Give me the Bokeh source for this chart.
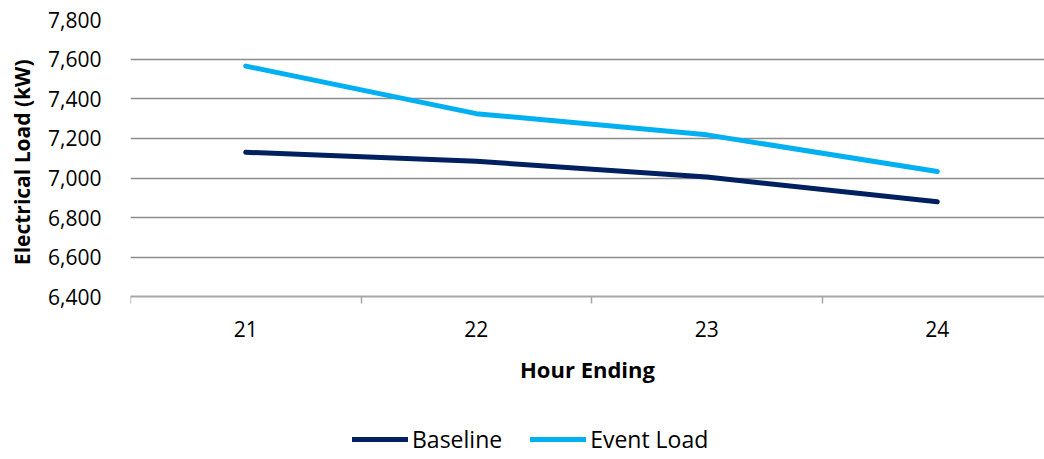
from bokeh.plotting import figure
from bokeh.models import Range1d, FixedTicker, Legend, LegendItem, NumeralTickFormatter, Title
from bokeh.embed import file_html
from bokeh.resources import INLINE

hours = [21, 22, 23, 24]
baseline = [7130, 7085, 7005, 6880]
event_load = [7565, 7325, 7218, 7033]
y_ticks = [6400, 6600, 6800, 7000, 7200, 7400, 7600, 7800]
series_names = ["Baseline", "Event Load"]

FONT = "Open Sans"

# frame spans the full height; the value axis starts at 6,400 (x axis fixed there)
p = figure(width=1044, height=459, output_backend="svg", toolbar_location=None,
           x_range=Range1d(20.5, 24.465), y_range=Range1d(5580, 7800),
           min_border_left=130, min_border_right=0, min_border_top=19, min_border_bottom=0)
p.outline_line_color = None
p.background_fill_color = "white"
p.border_fill_color = "white"

r1 = p.line(hours, baseline, line_color="#002060", line_width=5, line_cap="round", line_join="round")
r2 = p.line(hours, event_load, line_color="#00B0F0", line_width=5, line_cap="round", line_join="round")

# x axis
xa = p.xaxis[0]
xa.fixed_location = 6400
xa.ticker = FixedTicker(ticks=hours, minor_ticks=[20.5, 21.5, 22.5, 23.5])
xa.major_tick_out = 0
xa.major_tick_in = 0
xa.minor_tick_out = 7
xa.minor_tick_in = 0
xa.minor_tick_line_color = "#a6a6a6"
xa.minor_tick_line_width = 1.5
xa.axis_line_color = "#a6a6a6"
xa.axis_line_width = 1.5
xa.major_label_standoff = 17
xa.major_label_text_font = FONT
xa.major_label_text_font_size = "21px"
xa.major_label_text_color = "black"
xa.axis_label = "Hour Ending"
xa.axis_label_text_font = FONT
xa.axis_label_text_font_style = "bold"
xa.axis_label_text_font_size = "22px"
xa.axis_label_text_color = "black"
xa.axis_label_standoff = 14

# y axis
ya = p.yaxis[0]
ya.ticker = FixedTicker(ticks=y_ticks)
ya.formatter = NumeralTickFormatter(format="0,0")
ya.axis_line_color = None
ya.major_tick_line_color = None
ya.minor_tick_line_color = None
ya.major_label_standoff = 23
ya.major_label_text_font = FONT
ya.major_label_text_font_size = "21px"
ya.major_label_text_color = "black"

ytitle = Title(text="Electrical Load (kW)", align="right", vertical_align="top", offset=40, standoff=15,
               text_font=FONT, text_font_style="bold", text_font_size="21px", text_color="black")
p.add_layout(ytitle, "left")

p.xgrid.grid_line_color = None
p.ygrid.ticker = FixedTicker(ticks=y_ticks)
p.ygrid.grid_line_color = "#8c8c8c"
p.ygrid.grid_line_width = 1.5

legend = Legend(items=[LegendItem(label=series_names[0], renderers=[r1]),
                       LegendItem(label=series_names[1], renderers=[r2])],
                orientation="horizontal", location=(222, 4),
                border_line_color=None, background_fill_alpha=0,
                label_text_font=FONT, label_text_font_size="23px", label_text_color="black",
                glyph_width=56, glyph_height=20, label_standoff=4, spacing=28, padding=0, margin=0)
p.add_layout(legend, "center")

open("out.html", "w").write(file_html(p, INLINE))
